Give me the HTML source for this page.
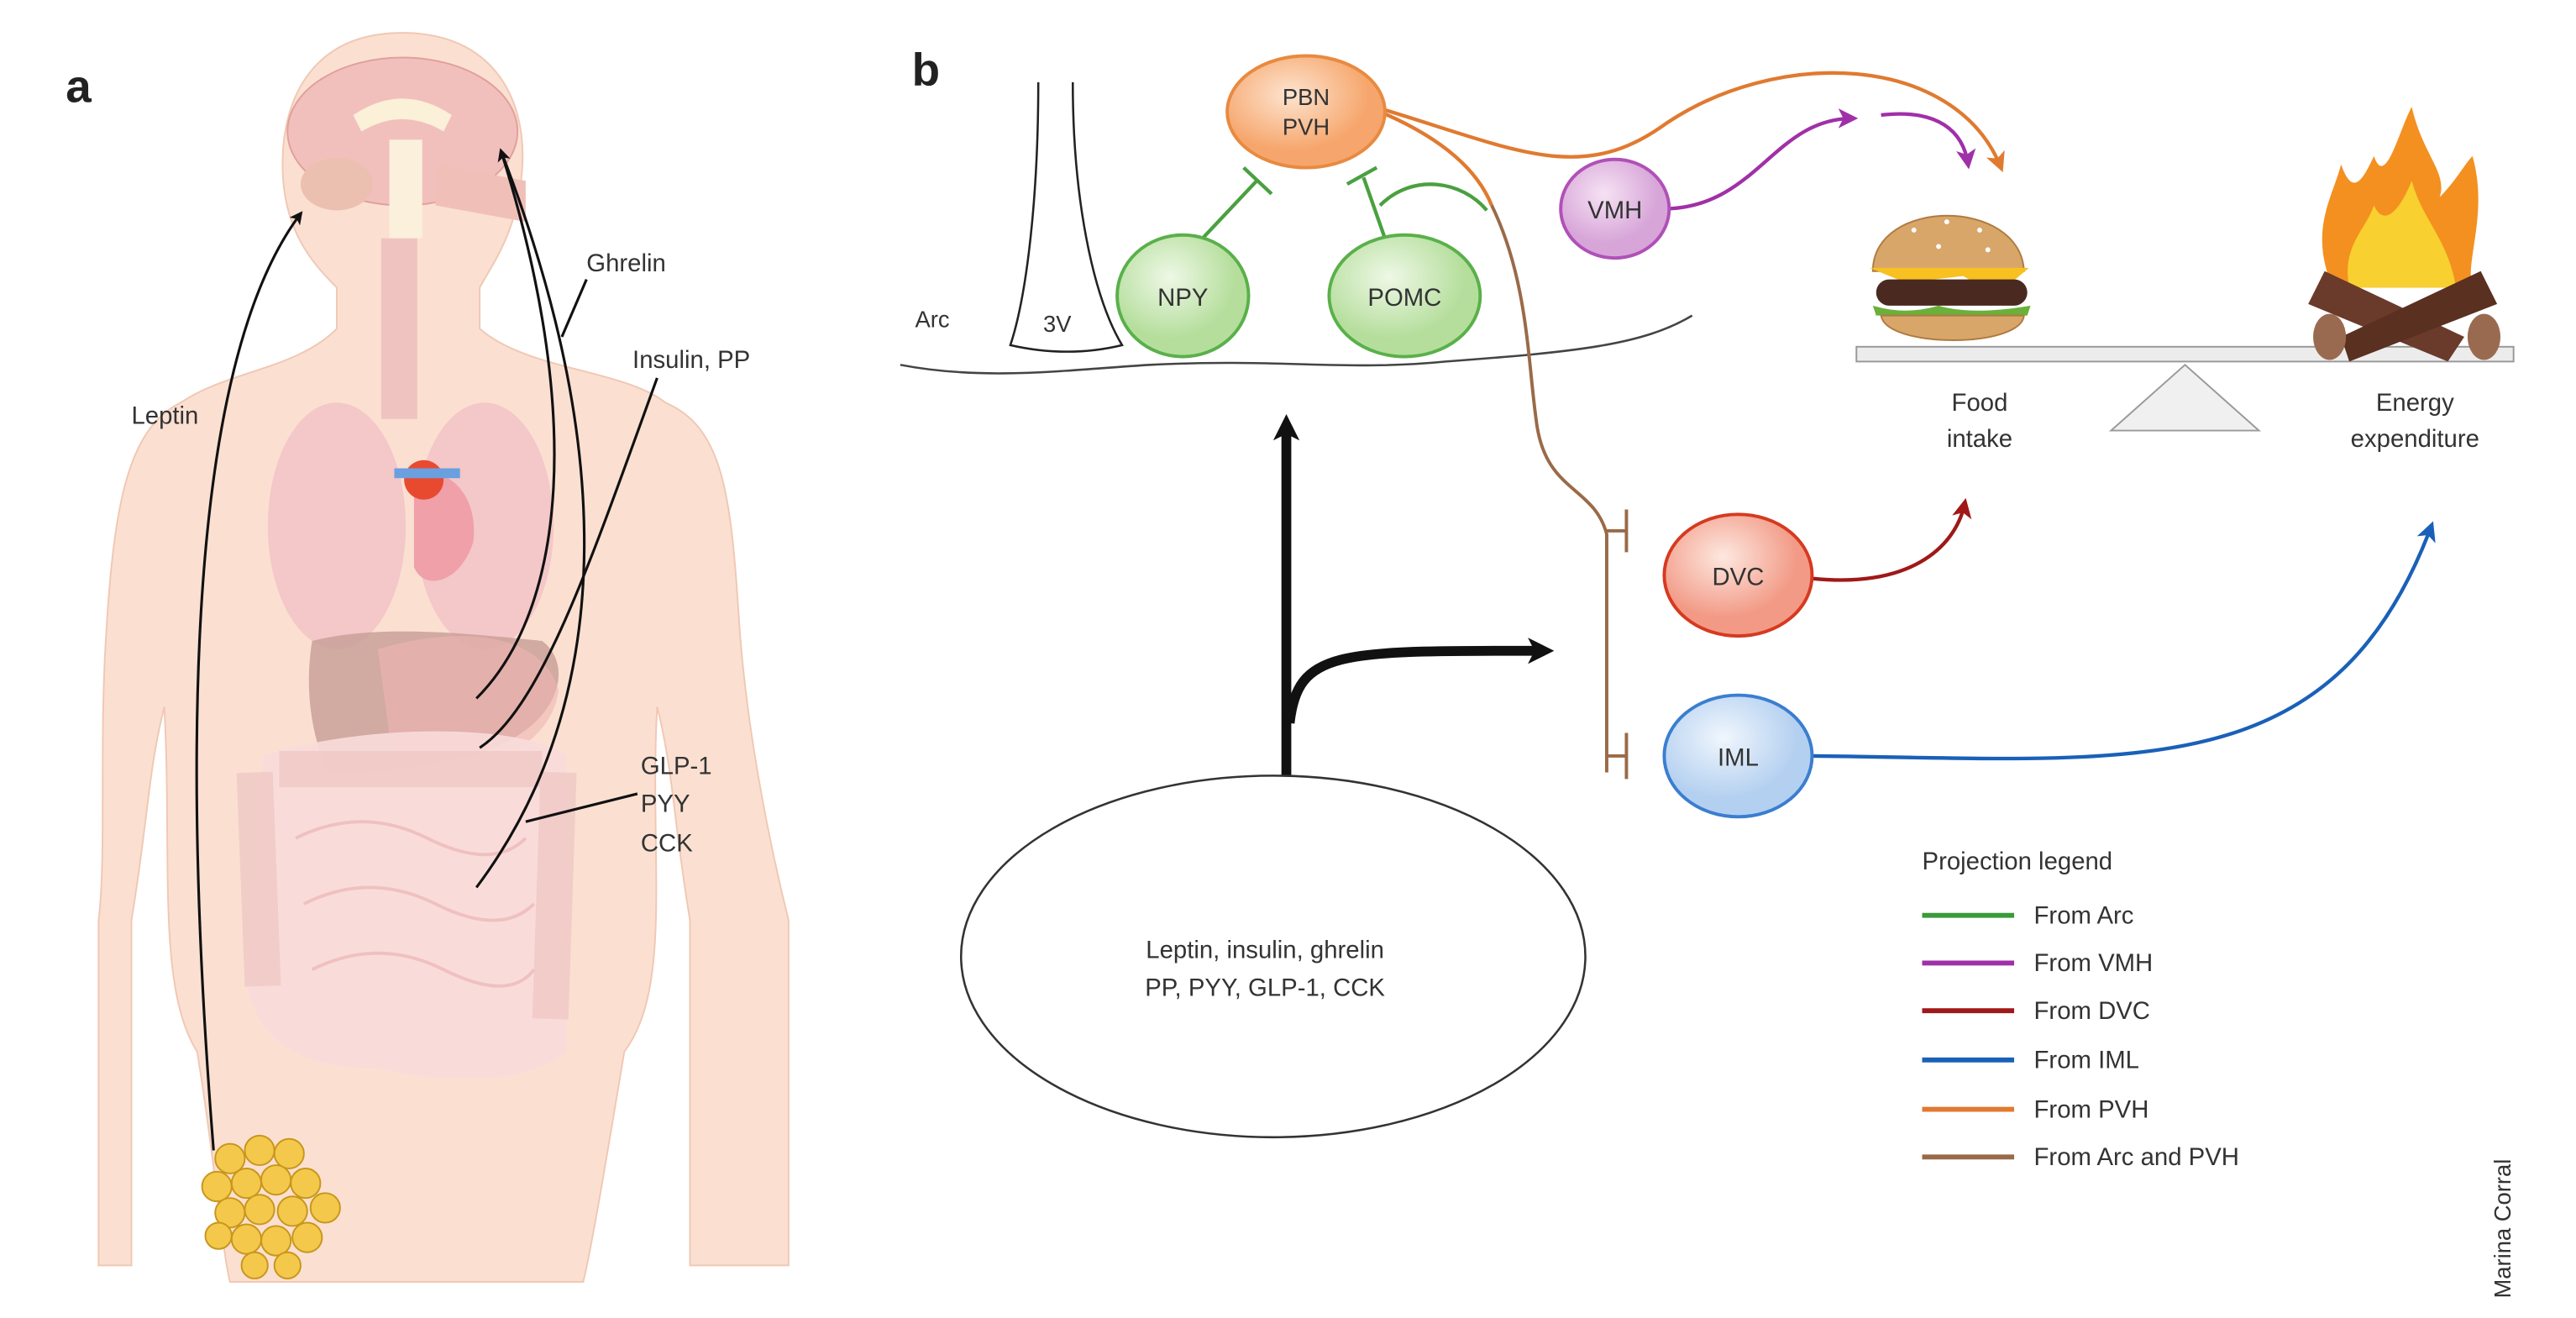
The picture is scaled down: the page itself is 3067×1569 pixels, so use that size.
<!DOCTYPE html>
<html><head><meta charset="utf-8"><style>
html,body{margin:0;padding:0;background:#fff}
svg{display:block}
text{font-family:"Liberation Sans",sans-serif;fill:#333}
</style></head><body>
<svg width="3067" height="1569" viewBox="0 0 1568 802" preserveAspectRatio="none" xmlns="http://www.w3.org/2000/svg">
<defs>
<radialGradient id="go" cx="40%" cy="35%"><stop offset="0" stop-color="#fde4d0"/><stop offset="1" stop-color="#f6a66c"/></radialGradient>
<radialGradient id="gg" cx="40%" cy="35%"><stop offset="0" stop-color="#eef8e6"/><stop offset="1" stop-color="#b5de9c"/></radialGradient>
<radialGradient id="gp" cx="40%" cy="35%"><stop offset="0" stop-color="#f6e2f4"/><stop offset="1" stop-color="#d7a5d8"/></radialGradient>
<radialGradient id="gr" cx="40%" cy="35%"><stop offset="0" stop-color="#fde8e0"/><stop offset="1" stop-color="#f29a86"/></radialGradient>
<radialGradient id="gb" cx="40%" cy="35%"><stop offset="0" stop-color="#f0f6fd"/><stop offset="1" stop-color="#b4d0f0"/></radialGradient>
<marker id="ak" markerWidth="8" markerHeight="8" refX="6" refY="4" orient="auto" markerUnits="userSpaceOnUse"><path d="M0,0 L8,4 L0,8 L2,4Z" fill="#111"/></marker>
<marker id="ao" markerWidth="12" markerHeight="12" refX="9" refY="6" orient="auto" markerUnits="userSpaceOnUse"><path d="M0,0 L12,6 L0,12 L3,6Z" fill="#e07a30"/></marker>
<marker id="ap" markerWidth="12" markerHeight="12" refX="9" refY="6" orient="auto" markerUnits="userSpaceOnUse"><path d="M0,0 L12,6 L0,12 L3,6Z" fill="#a030a8"/></marker>
<marker id="ar" markerWidth="12" markerHeight="12" refX="9" refY="6" orient="auto" markerUnits="userSpaceOnUse"><path d="M0,0 L12,6 L0,12 L3,6Z" fill="#a01818"/></marker>
<marker id="ab" markerWidth="12" markerHeight="12" refX="9" refY="6" orient="auto" markerUnits="userSpaceOnUse"><path d="M0,0 L12,6 L0,12 L3,6Z" fill="#1a60b8"/></marker>
<marker id="abk" markerWidth="16" markerHeight="16" refX="10" refY="8" orient="auto" markerUnits="userSpaceOnUse"><path d="M0,0 L16,8 L0,16 L4,8Z" fill="#111"/></marker>
</defs>

<text x="40" y="62" font-size="28" font-weight="bold" style="fill:#222">a</text>
<path d="M245,20 C300,20 320,60 318,100 C316,140 300,160 292,175 L292,200 C320,225 380,225 405,245 C440,260 445,300 450,380 C455,450 470,520 480,560 L480,770 L420,770 L420,560 C410,500 410,470 400,430 C395,520 410,600 380,640 C370,700 360,760 355,780 L140,780 C135,760 130,700 120,640 C95,600 105,520 100,430 C90,470 90,500 80,560 L80,770 L60,770 L60,560 C65,520 60,450 65,380 C70,300 80,260 110,245 C140,225 180,225 205,200 L205,175 C190,160 172,140 172,100 C172,60 190,20 245,20Z" fill="#fbe0d2" stroke="#f0c8b4" stroke-width="1"/>
<ellipse cx="245" cy="80" rx="70" ry="45" fill="#f2c0bc" stroke="#e0a09a"/>
<path d="M215,70 Q245,50 275,70 L270,80 Q245,65 220,80Z" fill="#fbf0d8"/>
<ellipse cx="205" cy="112" rx="22" ry="16" fill="#ecc0b0"/>
<rect x="237" y="85" width="20" height="60" fill="#fbf0dc"/>
<path d="M265,100 L320,110 L320,135 L265,125Z" fill="#f0c0b8"/>
<rect x="232" y="145" width="22" height="110" fill="#efc4c0"/>
<ellipse cx="205" cy="320" rx="42" ry="75" fill="#f3c4c6" opacity="0.9"/>
<ellipse cx="295" cy="320" rx="42" ry="75" fill="#f3c4c6" opacity="0.9"/>
<path d="M252,292 C270,280 292,300 288,330 C280,355 258,360 252,345Z" fill="#f0a0a8"/>
<ellipse cx="258" cy="292" rx="12" ry="12" fill="#e84a30"/>
<path d="M240,288 L280,288" stroke="#6aa0e0" stroke-width="6"/>
<path d="M190,390 C230,380 280,385 330,390 C350,405 340,440 300,455 C260,470 210,470 200,470 C190,450 185,420 190,390Z" fill="#c9a09a" opacity="0.85"/>
<path d="M230,395 C280,380 330,385 340,420 C335,460 280,475 240,470Z" fill="#efb4b0" opacity="0.6"/>
<path d="M160,460 C220,440 320,440 345,460 L345,640 C320,660 270,660 230,650 C190,650 160,640 150,600Z" fill="#f8dcda" opacity="0.9"/>
<path d="M155,470 L160,600 M340,470 L335,620 M170,468 L330,468" stroke="#efc8c4" stroke-width="22" fill="none" opacity="0.8"/>
<path d="M180,510 Q220,490 260,510 T320,510 M185,550 Q225,530 265,550 T325,550 M190,590 Q230,570 270,590 T325,590" stroke="#f0c0c0" stroke-width="2" fill="none"/>
<g fill="#f4c84a" stroke="#c8961c" stroke-width="1">
<circle cx="140" cy="705" r="9"/><circle cx="158" cy="700" r="9"/><circle cx="176" cy="702" r="9"/><circle cx="132" cy="722" r="9"/><circle cx="150" cy="720" r="9"/><circle cx="168" cy="718" r="9"/><circle cx="186" cy="720" r="9"/><circle cx="198" cy="735" r="9"/><circle cx="140" cy="738" r="9"/><circle cx="158" cy="736" r="9"/><circle cx="178" cy="737" r="9"/><circle cx="150" cy="754" r="9"/><circle cx="168" cy="755" r="9"/><circle cx="187" cy="753" r="9"/><circle cx="133" cy="752" r="8"/><circle cx="175" cy="770" r="8"/><circle cx="155" cy="770" r="8"/>
</g>
<g stroke="#111" stroke-width="1.6" fill="none">
<path d="M130,700 C110,450 115,220 183,130" marker-end="url(#ak)"/>
<path d="M290,425 C345,370 355,250 305,92" marker-end="url(#ak)"/>
<path d="M290,540 C380,420 370,260 305,92"/>
<path d="M292,455 C330,430 360,340 400,230"/>
<path d="M357,170 L342,205"/>
<path d="M388,483 L320,500"/>
</g>
<text x="80" y="258" font-size="15">Leptin</text>
<text x="357" y="165" font-size="15">Ghrelin</text>
<text x="385" y="224" font-size="15">Insulin, PP</text>
<text x="390" y="471" font-size="15">GLP-1</text>
<text x="390" y="494" font-size="15">PYY</text>
<text x="390" y="518" font-size="15">CCK</text>

<text x="555" y="52" font-size="28" font-weight="bold" style="fill:#222">b</text>
<path d="M632,50 C632,120 625,180 615,210 Q650,218 683,210 C665,180 653,120 653,50" fill="none" stroke="#222" stroke-width="1.3"/>
<text x="635" y="202" font-size="14">3V</text>
<text x="557" y="199" font-size="14">Arc</text>
<path d="M548,222 C600,232 650,225 700,222 C780,218 820,226 880,220 C960,214 1000,210 1030,192" fill="none" stroke="#444" stroke-width="1.3"/>

<path d="M840,66 C920,90 960,112 1010,78 C1080,28 1190,32 1218,102" fill="none" stroke="#e07a30" stroke-width="2.2" marker-end="url(#ao)"/>
<path d="M840,68 C880,85 900,105 908,125" fill="none" stroke="#e07a30" stroke-width="2.2"/>
<path d="M908,125 C930,170 930,220 935,255 C940,300 970,295 978,325 L978,470 M978,323 L990,323 M978,460 L990,460" fill="none" stroke="#9a6a48" stroke-width="2"/>
<path d="M990,310 L990,336 M990,446 L990,474" stroke="#9a6a48" stroke-width="2"/>

<g stroke="#4aa040" stroke-width="2.2" fill="none">
<path d="M732,145 L765,110"/><path d="M757,102 L774,118"/>
<path d="M843,145 L830,108"/><path d="M820,112 L838,102"/>
<path d="M840,125 C860,105 890,110 905,128"/>
</g>
<ellipse cx="795" cy="68" rx="48" ry="34" fill="url(#go)" stroke="#e88a40" stroke-width="2"/>
<text x="795" y="64" font-size="14" text-anchor="middle">PBN</text>
<text x="795" y="82" font-size="14" text-anchor="middle">PVH</text>
<ellipse cx="720" cy="180" rx="40" ry="37" fill="url(#gg)" stroke="#5ab04a" stroke-width="2"/>
<text x="720" y="186" font-size="15" text-anchor="middle">NPY</text>
<ellipse cx="855" cy="180" rx="46" ry="37" fill="url(#gg)" stroke="#5ab04a" stroke-width="2"/>
<text x="855" y="186" font-size="15" text-anchor="middle">POMC</text>

<path d="M1015,127 C1070,125 1080,72 1128,72" fill="none" stroke="#a030a8" stroke-width="2.2" marker-end="url(#ap)"/>
<path d="M1145,70 C1180,66 1195,80 1198,100" fill="none" stroke="#a030a8" stroke-width="2.2" marker-end="url(#ap)"/>
<ellipse cx="983" cy="127" rx="33" ry="30" fill="url(#gp)" stroke="#b050b8" stroke-width="2"/>
<text x="983" y="133" font-size="15" text-anchor="middle">VMH</text>

<polygon points="1330,222 1285,262 1375,262" fill="#f0f0f0" stroke="#999"/>
<rect x="1130" y="211" width="400" height="9" fill="#ececec" stroke="#999"/>
<path d="M1140,165 C1140,120 1230,120 1232,165Z" fill="#d9a66a" stroke="#b07a40"/>
<path d="M1138,163 L1235,163 L1215,180 L1195,168 L1160,172Z" fill="#f8c020"/>
<rect x="1142" y="170" width="92" height="16" rx="8" fill="#4a2a20"/>
<path d="M1140,186 Q1160,192 1180,186 Q1200,192 1236,186 L1234,192 L1142,192Z" fill="#6ab03a"/>
<path d="M1145,192 L1232,192 C1230,212 1148,212 1145,192Z" fill="#d9a66a" stroke="#b07a40"/>
<g fill="#fff"><circle cx="1165" cy="140" r="1.5"/><circle cx="1185" cy="135" r="1.5"/><circle cx="1205" cy="140" r="1.5"/><circle cx="1180" cy="150" r="1.5"/><circle cx="1210" cy="152" r="1.5"/></g>
<path d="M1420,175 C1405,140 1420,120 1425,100 C1432,120 1438,110 1445,95 C1452,115 1460,80 1468,65 C1475,95 1490,105 1485,120 C1495,110 1500,100 1505,95 C1515,130 1500,160 1505,175Z" fill="#f39020"/>
<path d="M1430,175 C1425,150 1440,140 1445,125 C1452,140 1462,125 1468,110 C1475,135 1490,145 1495,175Z" fill="#f8d030"/>
<path d="M1415,165 L1500,205 L1490,220 L1405,185Z" fill="#6a3a2a"/>
<path d="M1510,165 L1425,205 L1430,220 L1520,185Z" fill="#5a3020"/>
<ellipse cx="1418" cy="205" rx="10" ry="14" fill="#9a6a50"/>
<ellipse cx="1512" cy="205" rx="10" ry="14" fill="#9a6a50"/>
<text x="1205" y="250" font-size="15" text-anchor="middle">Food</text>
<text x="1205" y="272" font-size="15" text-anchor="middle">intake</text>
<text x="1470" y="250" font-size="15" text-anchor="middle">Energy</text>
<text x="1470" y="272" font-size="15" text-anchor="middle">expenditure</text>

<path d="M1103,352 C1160,358 1190,335 1196,306" fill="none" stroke="#a01818" stroke-width="2.2" marker-end="url(#ar)"/>
<ellipse cx="1058" cy="350" rx="45" ry="37" fill="url(#gr)" stroke="#d63a20" stroke-width="2"/>
<text x="1058" y="356" font-size="15" text-anchor="middle">DVC</text>
<path d="M1103,460 C1300,462 1420,480 1480,320" fill="none" stroke="#1a60b8" stroke-width="2.2" marker-end="url(#ab)"/>
<ellipse cx="1058" cy="460" rx="45" ry="37" fill="url(#gb)" stroke="#3a7ed0" stroke-width="2"/>
<text x="1058" y="466" font-size="15" text-anchor="middle">IML</text>

<path d="M783,472 L783,258" stroke="#111" stroke-width="6" fill="none" marker-end="url(#abk)"/>
<path d="M785,440 C790,395 815,396 940,396" stroke="#111" stroke-width="6" fill="none" marker-end="url(#abk)"/>
<ellipse cx="775" cy="582" rx="190" ry="110" fill="#fff" stroke="#333" stroke-width="1.3"/>
<text x="770" y="583" font-size="15" text-anchor="middle">Leptin, insulin, ghrelin</text>
<text x="770" y="606" font-size="15" text-anchor="middle">PP, PYY, GLP-1, CCK</text>

<text x="1170" y="529" font-size="15">Projection legend</text>
<g stroke-width="3">
<line x1="1170" y1="557" x2="1226" y2="557" stroke="#3a9a3a"/>
<line x1="1170" y1="586" x2="1226" y2="586" stroke="#a030a8"/>
<line x1="1170" y1="615" x2="1226" y2="615" stroke="#a01818"/>
<line x1="1170" y1="645" x2="1226" y2="645" stroke="#1a60b8"/>
<line x1="1170" y1="675" x2="1226" y2="675" stroke="#e07a30"/>
<line x1="1170" y1="704" x2="1226" y2="704" stroke="#9a6a48"/>
</g>
<text x="1238" y="562" font-size="15">From Arc</text>
<text x="1238" y="591" font-size="15">From VMH</text>
<text x="1238" y="620" font-size="15">From DVC</text>
<text x="1238" y="650" font-size="15">From IML</text>
<text x="1238" y="680" font-size="15">From PVH</text>
<text x="1238" y="709" font-size="15">From Arc and PVH</text>
<text x="0" y="0" font-size="14" transform="translate(1528,790) rotate(-90)">Marina Corral</text>
</svg>
</body></html>
